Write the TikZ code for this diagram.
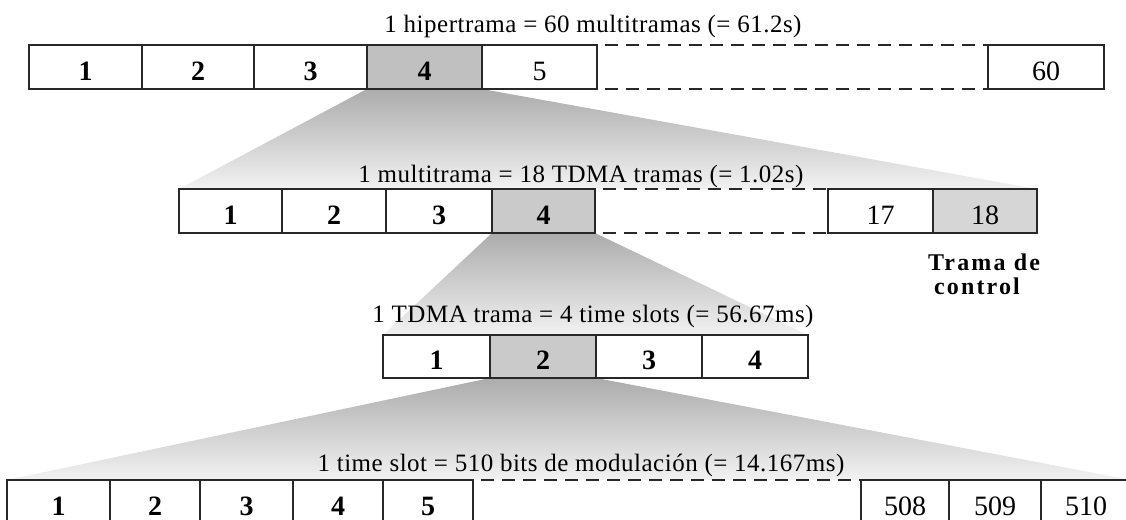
\documentclass[tikz,border=0pt]{standalone}
\usepackage{fontspec}
\setmainfont{Liberation Serif}
\newfontfamily\titlefont[LetterSpace=2]{Liberation Serif}
\newfontfamily\notefont[LetterSpace=9]{Liberation Serif}
\usetikzlibrary{backgrounds}

\definecolor{edge}{RGB}{40,40,40}
\definecolor{pick}{RGB}{192,192,192}
\definecolor{pickb}{RGB}{202,202,202}
\definecolor{ctrl}{RGB}{214,214,214}
\definecolor{funtop}{RGB}{172,172,172}
\definecolor{funbot}{RGB}{242,242,242}

\tikzset{
  cell/.style={draw=edge, line width=1.4pt, fill=white, minimum height=44pt,
    inner sep=0pt, outer sep=0pt, anchor=north west,
    text height=26pt, text depth=0pt, font=\fontsize{28}{30}\selectfont},
  digit/.style={cell, font=\bfseries\fontsize{28}{30}\selectfont},
  chosen/.style={fill=pick},
  ttl/.style={anchor=base, inner sep=0pt, font=\titlefont\fontsize{25}{27}\selectfont},
  note/.style={anchor=base, inner sep=0pt, font=\notefont\bfseries\fontsize{24}{26}\selectfont},
  gapline/.style={draw=edge, line width=1.4pt, dash pattern=on 13pt off 8pt, dash phase=13pt},
  funnel/.style={top color=funtop, bottom color=funbot}
}

\begin{document}
\begin{tikzpicture}[x=1pt, y=-1pt]
\useasboundingbox (0,0) rectangle (1126,519);
\clip (0,0) rectangle (1126,519);

% hipertrama
\node[digit, minimum width=113pt] (h1) at (29,45) {1};
\node[digit, minimum width=112pt] (h2) at (142,45) {2};
\node[digit, minimum width=113pt] (h3) at (254,45) {3};
\node[digit, chosen, minimum width=115pt] (h4) at (367,45) {4};
\node[cell, minimum width=115pt] (h5) at (482,45) {5};
\node[cell, minimum width=116pt] (h60) at (988,45) {60};
\node[ttl] (ttl1) at (593,33) {1 hipertrama = 60 multitramas (= 61.2s)};
\draw[gapline] (h5.north east) -- (h60.north west);
\draw[gapline] (h5.south east) -- (h60.south west);

% multitrama
\node[digit, minimum width=103pt] (m1) at (179,189) {1};
\node[digit, minimum width=104pt] (m2) at (282,189) {2};
\node[digit, minimum width=106pt] (m3) at (386,189) {3};
\node[digit, fill=pickb, minimum width=103pt] (m4) at (492,189) {4};
\node[cell, minimum width=105pt] (m17) at (828,189) {17};
\node[cell, fill=ctrl, minimum width=104pt] (m18) at (933,189) {18};
\node[ttl] (ttl2) at (581,182) {1 multitrama = 18 TDMA tramas (= 1.02s)};
\draw[gapline] (m4.north east) -- (m17.north west);
\draw[gapline] (m4.south east) -- (m17.south west);
\node[note] (note1) at (984,270) {Trama de};
\node[note] (note2) at (977,294) {control};

% TDMA trama
\node[digit, minimum width=107pt, minimum height=43pt] (t1) at (383,335) {1};
\node[digit, fill=pickb, minimum width=106pt, minimum height=43pt] (t2) at (490,335) {2};
\node[digit, minimum width=106pt, minimum height=43pt] (t3) at (596,335) {3};
\node[digit, minimum width=106pt, minimum height=43pt] (t4) at (702,335) {4};
\node[ttl] (ttl3) at (593,322) {1 TDMA trama = 4 time slots (= 56.67ms)};

% time slot
\node[digit, minimum width=103pt] (s1) at (7,480) {1};
\node[digit, minimum width=90pt] (s2) at (110,480) {2};
\node[digit, minimum width=93pt] (s3) at (200,480) {3};
\node[digit, minimum width=90pt] (s4) at (293,480) {4};
\node[digit, minimum width=90pt] (s5) at (383,480) {5};
\node[cell, minimum width=88pt] (s508) at (861,480) {508};
\node[cell, minimum width=92pt] (s509) at (949,480) {509};
\node[cell, minimum width=90pt] (s510) at (1041,480) {510};
\node[ttl] (ttl4) at (581,471) {1 time slot = 510 bits de modulación (= 14.167ms)};
\draw[gapline] (s5.north east) -- (s508.north west);

% expansion fans behind the frames
\begin{scope}[on background layer]
  \shade[funnel] (h4.south west) -- (h4.south east) -- (m18.north east) -- (m1.north west) -- cycle;
  \shade[funnel] (m4.south west) -- (m4.south east) -- (t4.north east) -- (t1.north west) -- cycle;
  \shade[funnel] (t2.south west) -- (t2.south east) -- (s510.north east) -- (s1.north west) -- cycle;
\end{scope}
\end{tikzpicture}
\end{document}
